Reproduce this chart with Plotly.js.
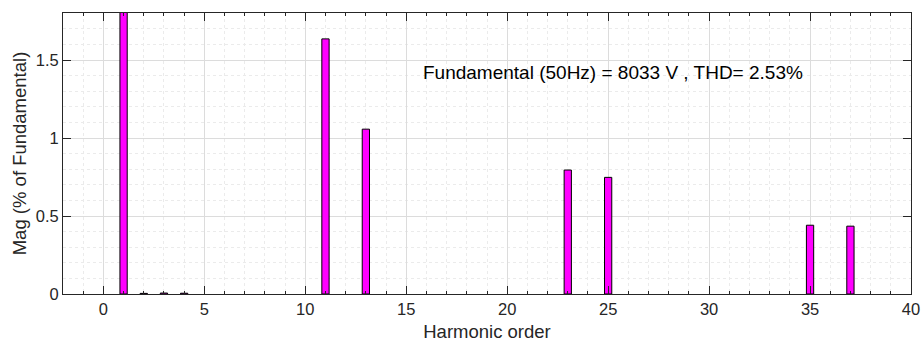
<!DOCTYPE html>
<html>
<head>
<meta charset="utf-8">
<script src="https://cdn.plot.ly/plotly-3.0.1.min.js"></script>
<style>html,body{margin:0;padding:0;background:#fff;}#chart{width:923px;height:342px;}</style>
</head>
<body>
<div id="chart"></div>
<script>
// Harmonic orders and magnitudes (% of fundamental); null = no visible bar
const harmonicOrder = [0,1,2,3,4,5,6,7,8,9,10,11,12,13,14,15,16,17,18,19,20,21,22,23,24,25,26,27,28,29,30,31,32,33,34,35,36,37,38,39];
const magnitude = [null,100,0.004,0.006,0.005,null,null,null,null,null,null,1.636,null,1.057,null,null,null,null,null,null,null,null,null,0.795,null,0.748,null,null,null,null,null,null,null,null,null,0.441,null,0.435,null,null];
const xTicks = [0,5,10,15,20,25,30,35,40];
const yTicks = [0,0.5,1,1.5];
const yTickText = ['0','0.5','1','1.5'];
const annotationText = 'Fundamental (50Hz) = 8033 V , THD= 2.53%';

const font = {family: 'Liberation Sans, Arial, sans-serif', color: '#262626'};

const trace = {
  type: 'bar',
  x: harmonicOrder,
  y: magnitude,
  width: 0.36,
  marker: {color: '#FF00FF', line: {color: '#000000', width: 1}},
  hoverinfo: 'x+y'
};

const axisCommon = {
  showline: true, linecolor: '#262626', linewidth: 1,
  mirror: 'ticks', ticks: 'inside', ticklen: 8, tickcolor: '#262626',
  showgrid: true, gridcolor: '#dcdcdc', gridwidth: 1,
  zeroline: false,
  tickfont: {family: font.family, color: font.color, size: 16.5}
};

const layout = {
  width: 923, height: 342,
  margin: {l: 63, r: 12, t: 13, b: 48},
  paper_bgcolor: '#ffffff', plot_bgcolor: '#ffffff',
  showlegend: false,
  bargap: 0,
  xaxis: Object.assign({}, axisCommon, {
    range: [-2, 40],
    tickmode: 'array', tickvals: xTicks,
    minor: {dtick: 1, ticks: 'inside', ticklen: 3, tickcolor: '#262626', showgrid: true, gridcolor: '#ebebeb', griddash: 'dot', gridwidth: 1},
    title: {text: 'Harmonic order', font: {family: font.family, color: font.color, size: 18.5}, standoff: 9}
  }),
  yaxis: Object.assign({}, axisCommon, {
    range: [0, 1.802],
    tickmode: 'array', tickvals: yTicks, ticktext: yTickText,
    minor: {dtick: 0.1, ticks: '', showgrid: true, gridcolor: '#ebebeb', griddash: 'dot', gridwidth: 1},
    title: {text: 'Mag (% of Fundamental)', font: {family: font.family, color: font.color, size: 18.5}, standoff: 4}
  }),
  annotations: [{
    x: 15.74, y: 1.418, xref: 'x', yref: 'y',
    xanchor: 'left', yanchor: 'middle',
    text: annotationText, showarrow: false,
    font: {family: font.family, color: '#000000', size: 19}
  }]
};

Plotly.newPlot('chart', [trace], layout, {displayModeBar: false, staticPlot: true});
</script>
</body>
</html>
